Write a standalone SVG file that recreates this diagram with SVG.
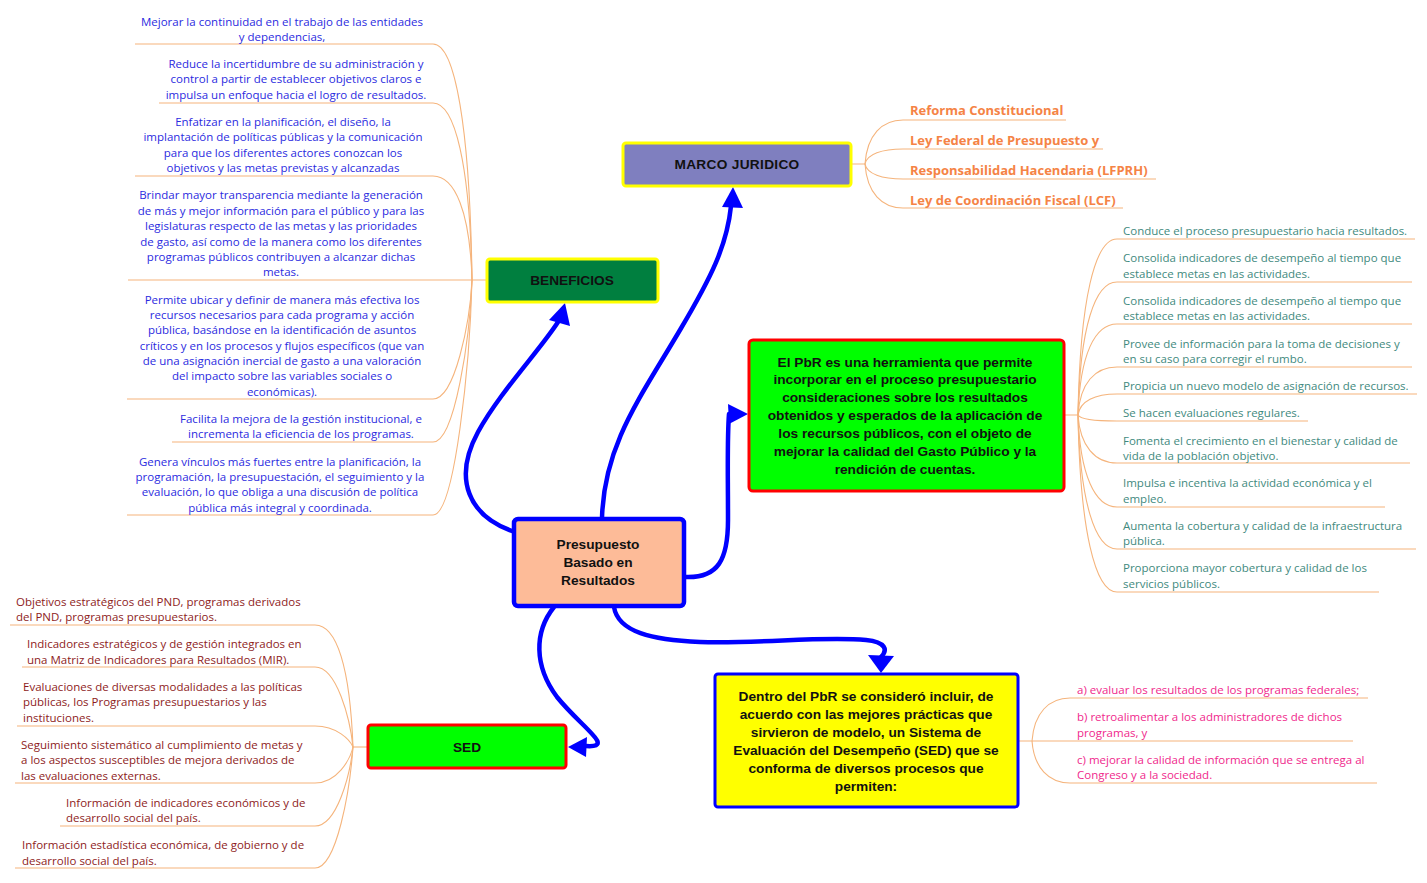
<svg xmlns="http://www.w3.org/2000/svg" width="1427" height="883" viewBox="0 0 1427 883">
<style>
.bg{fill:#ffffff}
.br{fill:none;stroke:#f5b47c;stroke-width:1.1}
.cn{fill:none;stroke:#0000ff;stroke-width:4.5;stroke-linecap:round}
.ah{fill:#0000ff}
.nt{font-family:"Liberation Sans",Arial,sans-serif;font-weight:bold;font-size:13.7px;fill:#111;text-anchor:middle}
.tb{font-family:"Open Sans","Noto Sans",sans-serif;font-size:11.5px;fill:#2b2be0;text-anchor:middle}
.tr{font-family:"Open Sans","Noto Sans",sans-serif;font-size:11.5px;fill:#8e1c1c}
.tt{font-family:"Open Sans","Noto Sans",sans-serif;font-size:11.5px;fill:#3f8a7e}
.tp{font-family:"Open Sans","Noto Sans",sans-serif;font-size:11.5px;fill:#f0288c}
.to{font-family:"Open Sans","Noto Sans",sans-serif;font-size:13px;font-weight:bold;fill:#f58345}
</style>
<rect class="bg" x="0" y="0" width="1427" height="883"/>

<g id="branches">
<path class="br" d="M135 44 H433 C455 44 470 127 472 280"/>
<path class="br" d="M159 103 H433 C455 103 470 165 472 280"/>
<path class="br" d="M135 176 H433 C455 176 470 212 472 280"/>
<path class="br" d="M128 280 H487"/>
<path class="br" d="M127 399 H433 C455 399 470 322 472 280"/>
<path class="br" d="M172 442 H433 C455 442 470 337 472 280"/>
<path class="br" d="M127 515 H433 C455 515 470 362 472 280"/>

<path class="br" d="M10 625 H315 C337 625 350 668 353 747"/>
<path class="br" d="M22 667 H315 C337 667 350 719 353 747"/>
<path class="br" d="M17 726 H315 C337 726 350 740 353 747"/>
<path class="br" d="M15 783 H315 C337 783 350 760 353 747"/>
<path class="br" d="M60 826 H315 C337 826 350 775 353 747"/>
<path class="br" d="M15 868 H315 C337 868 350 789 353 747"/>
<path class="br" d="M353 747 H368"/>

<path class="br" d="M851 164 H865 C867 135 882 120 903 120 H1066"/>
<path class="br" d="M865 164 C867 154 882 149 903 149 H1103"/>
<path class="br" d="M865 164 C867 174 882 179 903 179 H1156"/>
<path class="br" d="M865 164 C867 193 882 208 903 208 H1123"/>

<path class="br" d="M1064 415 H1078 C1080 299 1095 239 1117 239 H1415"/>
<path class="br" d="M1078 415 C1080 327 1095 282 1117 282 H1412"/>
<path class="br" d="M1078 415 C1080 354 1095 324 1117 324 H1412"/>
<path class="br" d="M1078 415 C1080 383 1095 367 1117 367 H1412"/>
<path class="br" d="M1078 415 C1080 401 1095 394 1117 394 H1417"/>
<path class="br" d="M1078 415 C1080 419 1095 421 1117 421 H1308"/>
<path class="br" d="M1078 415 C1080 446 1095 463 1117 463 H1410"/>
<path class="br" d="M1078 415 C1080 475 1095 507 1117 507 H1385"/>
<path class="br" d="M1078 415 C1080 502 1095 549 1117 549 H1416"/>
<path class="br" d="M1078 415 C1080 530 1095 592 1117 592 H1379"/>

<path class="br" d="M1018 741 H1032 C1034 713 1049 698 1070 698 H1368"/>
<path class="br" d="M1032 741 H1353"/>
<path class="br" d="M1032 741 C1034 768 1049 783 1070 783 H1377"/>
</g>

<g id="connectors">
<path class="cn" d="M512 531 C470 516 452 480 478 432 C500 392 540 350 558 322"/>
<polygon class="ah" points="565,303 549,320 570,326"/>
<path class="cn" d="M602 518 C604 445 640 398 680 330 C712 276 727 245 731 206"/>
<polygon class="ah" points="733,187 722,207 743,208"/>
<path class="cn" d="M686 577 C718 578 728 560 728 520 C728 470 727 440 729 414"/>
<polygon class="ah" points="748,414 728,404 729,424"/>
<path class="cn" d="M614 607 C618 632 652 640 700 642 C760 644 820 636 866 640 C886 642 888 650 881 657"/>
<polygon class="ah" points="881,673 868,655 894,656"/>
<path class="cn" d="M554 607 C534 632 534 666 557 697 C582 728 616 748 586 746"/>
<polygon class="ah" points="568,747 587,737 586,757"/>
</g>

<g id="marco">
<rect x="623" y="143" width="228" height="43" rx="3" fill="#7f7fbf" stroke="#ffff00" stroke-width="3"/>
<text class="nt" x="737" y="169" letter-spacing="0.3">MARCO JURIDICO</text>
</g>
<g id="beneficios">
<rect x="487" y="259" width="171" height="43" rx="3" fill="#007f3f" stroke="#ffff00" stroke-width="3"/>
<text class="nt" x="572" y="285" font-size="13">BENEFICIOS</text>
</g>
<g id="pbr-central">
<rect x="514" y="519" width="170" height="87" rx="4" fill="#fdbb98" stroke="#0000ff" stroke-width="4.5"/>
<text class="nt" x="598" y="549">Presupuesto</text>
<text class="nt" x="598" y="567">Basado en</text>
<text class="nt" x="598" y="585">Resultados</text>
</g>
<g id="pbr-def">
<rect x="749" y="340" width="315" height="151" rx="4" fill="#00ff00" stroke="#ff0000" stroke-width="3"/>
<text class="nt" x="905" y="367">El PbR es una herramienta que permite</text>
<text class="nt" x="905" y="384">incorporar en el proceso presupuestario</text>
<text class="nt" x="905" y="402">consideraciones sobre los resultados</text>
<text class="nt" x="905" y="420">obtenidos y esperados de la aplicación de</text>
<text class="nt" x="905" y="438">los recursos públicos, con el objeto de</text>
<text class="nt" x="905" y="456">mejorar la calidad del Gasto Público y la</text>
<text class="nt" x="905" y="474">rendición de cuentas.</text>
</g>
<g id="sed">
<rect x="368" y="725" width="198" height="43" rx="3" fill="#00ff00" stroke="#ff0000" stroke-width="3"/>
<text class="nt" x="467" y="752" font-size="12">SED</text>
</g>
<g id="dentro">
<rect x="715" y="674" width="303" height="133" rx="3" fill="#ffff00" stroke="#0000ff" stroke-width="3"/>
<text class="nt" x="866" y="701">Dentro del PbR se consideró incluir, de</text>
<text class="nt" x="866" y="719">acuerdo con las mejores prácticas que</text>
<text class="nt" x="866" y="737">sirvieron de modelo, un Sistema de</text>
<text class="nt" x="866" y="755">Evaluación del Desempeño (SED) que se</text>
<text class="nt" x="866" y="773">conforma de diversos procesos que</text>
<text class="nt" x="866" y="791">permiten:</text>
</g>

<g id="beneficios-items">
<text class="tb" x="282" y="26">Mejorar la continuidad en el trabajo de las entidades</text>
<text class="tb" x="282" y="41">y dependencias,</text>
<text class="tb" x="296" y="68">Reduce la incertidumbre de su administración y</text>
<text class="tb" x="296" y="83">control a partir de establecer objetivos claros e</text>
<text class="tb" x="296" y="99">impulsa un enfoque hacia el logro de resultados.</text>
<text class="tb" x="283" y="126">Enfatizar en la planificación, el diseño, la</text>
<text class="tb" x="283" y="141">implantación de políticas públicas y la comunicación</text>
<text class="tb" x="283" y="157">para que los diferentes actores conozcan los</text>
<text class="tb" x="283" y="172">objetivos y las metas previstas y alcanzadas</text>
<text class="tb" x="281" y="199">Brindar mayor transparencia mediante la generación</text>
<text class="tb" x="281" y="215">de más y mejor información para el público y para las</text>
<text class="tb" x="281" y="230">legislaturas respecto de las metas y las prioridades</text>
<text class="tb" x="281" y="246">de gasto, así como de la manera como los diferentes</text>
<text class="tb" x="281" y="261">programas públicos contribuyen a alcanzar dichas</text>
<text class="tb" x="281" y="276">metas.</text>
<text class="tb" x="282" y="304">Permite ubicar y definir de manera más efectiva los</text>
<text class="tb" x="282" y="319">recursos necesarios para cada programa y acción</text>
<text class="tb" x="282" y="334">pública, basándose en la identificación de asuntos</text>
<text class="tb" x="282" y="350">críticos y en los procesos y flujos específicos (que van</text>
<text class="tb" x="282" y="365">de una asignación inercial de gasto a una valoración</text>
<text class="tb" x="282" y="380">del impacto sobre las variables sociales o</text>
<text class="tb" x="282" y="396">económicas).</text>
<text class="tb" x="301" y="423">Facilita la mejora de la gestión institucional, e</text>
<text class="tb" x="301" y="438">incrementa la eficiencia de los programas.</text>
<text class="tb" x="280" y="466">Genera vínculos más fuertes entre la planificación, la</text>
<text class="tb" x="280" y="481">programación, la presupuestación, el seguimiento y la</text>
<text class="tb" x="280" y="496">evaluación, lo que obliga a una discusión de política</text>
<text class="tb" x="280" y="512">pública más integral y coordinada.</text>
</g>

<g id="sed-items">
<text class="tr" x="16" y="606">Objetivos estratégicos del PND, programas derivados</text>
<text class="tr" x="16" y="621">del PND, programas presupuestarios.</text>
<text class="tr" x="27" y="648">Indicadores estratégicos y de gestión integrados en</text>
<text class="tr" x="27" y="664">una Matriz de Indicadores para Resultados (MIR).</text>
<text class="tr" x="23" y="691">Evaluaciones de diversas modalidades a las políticas</text>
<text class="tr" x="23" y="706">públicas, los Programas presupuestarios y las</text>
<text class="tr" x="23" y="722">instituciones.</text>
<text class="tr" x="21" y="749">Seguimiento sistemático al cumplimiento de metas y</text>
<text class="tr" x="21" y="764">a los aspectos susceptibles de mejora derivados de</text>
<text class="tr" x="21" y="780">las evaluaciones externas.</text>
<text class="tr" x="66" y="807">Información de indicadores económicos y de</text>
<text class="tr" x="66" y="822">desarrollo social del país.</text>
<text class="tr" x="22" y="849">Información estadística económica, de gobierno y de</text>
<text class="tr" x="22" y="865">desarrollo social del país.</text>
</g>

<g id="marco-items">
<text class="to" x="910" y="115">Reforma Constitucional</text>
<text class="to" x="910" y="145">Ley Federal de Presupuesto y</text>
<text class="to" x="910" y="175">Responsabilidad Hacendaria (LFPRH)</text>
<text class="to" x="910" y="205">Ley de Coordinación Fiscal (LCF)</text>
</g>

<g id="pbr-items">
<text class="tt" x="1123" y="235">Conduce el proceso presupuestario hacia resultados.</text>
<text class="tt" x="1123" y="262">Consolida indicadores de desempeño al tiempo que</text>
<text class="tt" x="1123" y="278">establece metas en las actividades.</text>
<text class="tt" x="1123" y="305">Consolida indicadores de desempeño al tiempo que</text>
<text class="tt" x="1123" y="320">establece metas en las actividades.</text>
<text class="tt" x="1123" y="348">Provee de información para la toma de decisiones y</text>
<text class="tt" x="1123" y="363">en su caso para corregir el rumbo.</text>
<text class="tt" x="1123" y="390">Propicia un nuevo modelo de asignación de recursos.</text>
<text class="tt" x="1123" y="417">Se hacen evaluaciones regulares.</text>
<text class="tt" x="1123" y="445">Fomenta el crecimiento en el bienestar y calidad de</text>
<text class="tt" x="1123" y="460">vida de la población objetivo.</text>
<text class="tt" x="1123" y="487">Impulsa e incentiva la actividad económica y el</text>
<text class="tt" x="1123" y="503">empleo.</text>
<text class="tt" x="1123" y="530">Aumenta la cobertura y calidad de la infraestructura</text>
<text class="tt" x="1123" y="545">pública.</text>
<text class="tt" x="1123" y="572">Proporciona mayor cobertura y calidad de los</text>
<text class="tt" x="1123" y="588">servicios públicos.</text>
</g>

<g id="sed-process-items">
<text class="tp" x="1077" y="694">a) evaluar los resultados de los programas federales;</text>
<text class="tp" x="1077" y="721">b) retroalimentar a los administradores de dichos</text>
<text class="tp" x="1077" y="737">programas, y</text>
<text class="tp" x="1077" y="764">c) mejorar la calidad de información que se entrega al</text>
<text class="tp" x="1077" y="779">Congreso y a la sociedad.</text>
</g>
</svg>
